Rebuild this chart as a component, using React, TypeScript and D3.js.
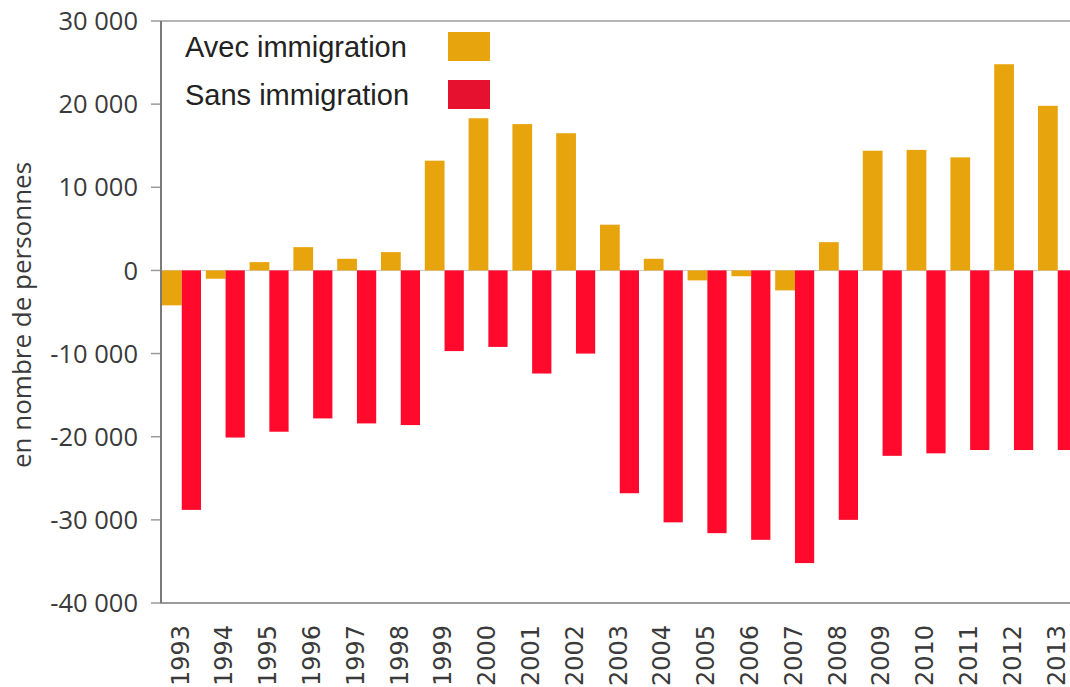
import * as d3 from "d3";

const years = ["1993", "1994", "1995", "1996", "1997", "1998", "1999", "2000", "2001", "2002", "2003", "2004", "2005", "2006", "2007", "2008", "2009", "2010", "2011", "2012", "2013"];
const avecImmigration = [-4200, -1000, 1000, 2800, 1400, 2200, 13200, 18300, 17600, 16500, 5500, 1400, -1200, -700, -2400, 3400, 14400, 14500, 13600, 24800, 19800];
const sansImmigration = [-28800, -20100, -19400, -17800, -18400, -18600, -9700, -9200, -12400, -10000, -26800, -30300, -31600, -32400, -35200, -30000, -22300, -22000, -21600, -21600, -21600];
const yTicks = [30000, 20000, 10000, 0, -10000, -20000, -30000, -40000];
const seriesKeys = ["avec", "sans"];
const seriesLabels = ["Avec immigration", "Sans immigration"];

const W = 1070;
const H = 687;
const left = 160;
const top = 21;
const bottom = 603;

// french style: space as thousands separator, plain hyphen for minus
const fmt = (v: number) =>
  v === 0 ? "0" : d3.format(",")(v).replace(/,/g, " ").replace("\u2212", "-");

export default function App() {
  const x = d3.scaleBand<string>().domain(years).range([left, left + 21 * 43.8]);
  const x1 = d3.scaleBand<string>().domain(seriesKeys).range([2, 41.5]);
  const y = d3.scaleLinear().domain([-40000, 30000]).range([bottom, top]);

  const rows = years.map((yr, i) => ({ yr, avec: avecImmigration[i], sans: sansImmigration[i] }));

  return (
    <svg width={W} height={H} style={{ position: "absolute", left: 0, top: 0, background: "#fff" }}>
      {/* frame */}
      <line x1={left} x2={W} y1={top} y2={top} stroke="#b5b5b5" strokeWidth={2} />
      <line x1={left} x2={W} y1={bottom} y2={bottom} stroke="#9a9a9a" strokeWidth={2} />
      <line x1={left} x2={W} y1={y(0)} y2={y(0)} stroke="#c8c8c8" strokeWidth={1} />

      {rows.map((d) => (
        <g key={d.yr} transform={`translate(${x(d.yr)},0)`}>
          <rect x={x1("avec")} width={x1.bandwidth()} y={y(Math.max(0, d.avec))} height={Math.abs(y(d.avec) - y(0))} fill="#E8A40C" />
          <rect x={x1("sans")} width={x1.bandwidth() - 0.5} y={y(Math.max(0, d.sans))} height={Math.abs(y(d.sans) - y(0))} fill="#FF0A2D" />
        </g>
      ))}

      <line x1={left + 1} x2={left + 1} y1={top} y2={bottom} stroke="#7a7a7a" strokeWidth={2} />

      {yTicks.map((t) => (
        <g key={t}>
          <line x1={151} x2={left} y1={y(t)} y2={y(t)} stroke="#9a9a9a" strokeWidth={1.5} />
          <text x={138} y={y(t)} dy="0.36em" textAnchor="end" fontFamily="'Open Sans', sans-serif" fontSize={25.5} fill="#3a3a3a">
            {fmt(t)}
          </text>
        </g>
      ))}

      {years.map((yr) => (
        <text
          key={yr}
          transform={`translate(${(x(yr) as number) + x.bandwidth() / 2 - 2},625) rotate(-90)`}
          dy="0.36em"
          textAnchor="end"
          fontFamily="'DejaVu Sans', Verdana, sans-serif"
          fontSize={24}
          fill="#3a3a3a"
        >
          {yr}
        </text>
      ))}

      <text
        transform="translate(22,315) rotate(-90)"
        dy="0.36em"
        textAnchor="middle"
        fontFamily="'Open Sans', sans-serif"
        fontSize={26}
        fill="#3a3a3a"
      >
        en nombre de personnes
      </text>

      {/* legend */}
      {seriesLabels.map((lab, i) => (
        <g key={lab} transform={`translate(0,${i * 48})`}>
          <text x={185} y={57} fontFamily="'Liberation Sans', Arial, sans-serif" fontSize={29} fill="#222">
            {lab}
          </text>
          <rect x={448} y={32} width={42} height={29} fill={i === 0 ? "#E8A40C" : "#E5112E"} />
        </g>
      ))}
    </svg>
  );
}
